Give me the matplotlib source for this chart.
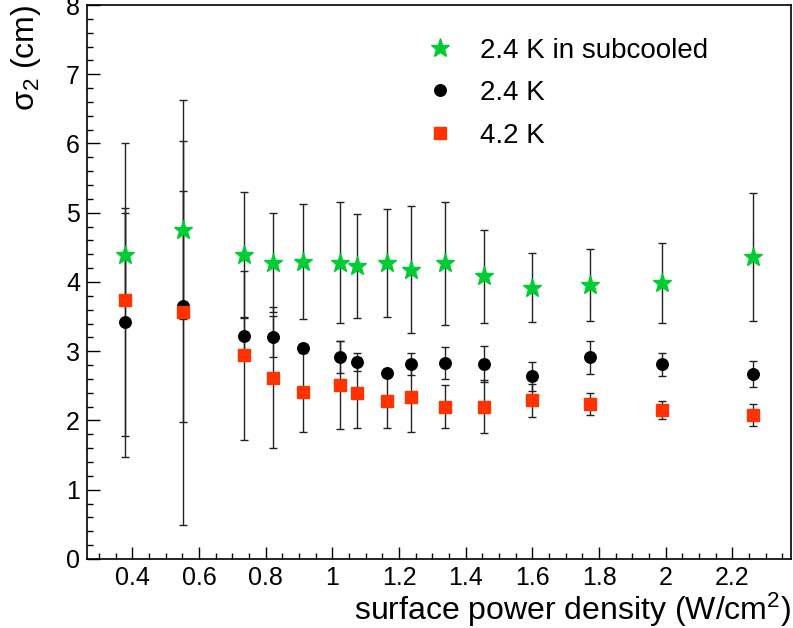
import numpy as np
import matplotlib.pyplot as plt
from matplotlib.lines import Line2D
from matplotlib.ticker import MultipleLocator

plt.rcParams['font.family'] = ['Liberation Sans', 'DejaVu Sans']
plt.rcParams['mathtext.fontset'] = 'custom'
plt.rcParams['mathtext.rm'] = 'Liberation Sans'
plt.rcParams['mathtext.it'] = 'Liberation Sans:italic'

# surface power density (W/cm^2)
power = [0.378, 0.553, 0.735, 0.821, 0.911, 1.023, 1.073, 1.164, 1.236,
         1.337, 1.456, 1.599, 1.772, 1.988, 2.261]

# 2.4 K in subcooled
sig_sub = [4.39, 4.75, 4.39, 4.28, 4.29, 4.28, 4.23, 4.27, 4.18, 4.27, 4.08, 3.92, 3.95, 3.99, 4.36]
err_sub = [0.60, 1.29, 0.91, 0.71, 0.83, 0.87, 0.745, 0.78, 0.915, 0.885, 0.67, 0.505, 0.52, 0.58, 0.925]

# 2.4 K
sig_24 = [3.42, 3.65, 3.22, 3.21, 3.05, 2.92, 2.85, 2.69, 2.82, 2.83, 2.82, 2.64, 2.91, 2.81, 2.67]
err_24 = [1.65, 1.67, 0.27, 0.30, 0.05, 0.23, 0.13, 0.05, 0.16, 0.225, 0.26, 0.21, 0.235, 0.165, 0.185]

# 4.2 K
sig_42 = [3.74, 3.56, 2.94, 2.62, 2.41, 2.51, 2.40, 2.28, 2.34, 2.20, 2.20, 2.29, 2.24, 2.15, 2.08]
err_42 = [2.27, 3.07, 1.22, 1.02, 0.57, 0.64, 0.51, 0.39, 0.50, 0.31, 0.38, 0.24, 0.16, 0.135, 0.155]

green = '#00cc33'
red = '#ff3300'

fig = plt.figure(figsize=(7.93, 6.28), dpi=100)
ax = fig.add_axes([0.1097, 0.110, 0.8878, 0.882])

eb = dict(ecolor='#222222', elinewidth=1.0, capsize=2.6, capthick=1.0, linestyle='none')
ax.errorbar(power, sig_sub, yerr=err_sub, marker='*', ms=14, color=green, mec=green, **eb)
ax.errorbar(power, sig_24, yerr=err_24, marker='o', ms=8.3, color='black', **eb)
ax.errorbar(power, sig_42, yerr=err_42, marker='s', ms=8.5, color=red, mec=red, **eb)

ax.set_xlim(0.264, 2.376)
ax.set_ylim(0, 8)
ax.xaxis.set_major_locator(MultipleLocator(0.2))
ax.xaxis.set_minor_locator(MultipleLocator(0.05))
ax.yaxis.set_major_locator(MultipleLocator(1))
ax.yaxis.set_minor_locator(MultipleLocator(0.2))
ax.xaxis.set_major_formatter(plt.FuncFormatter(lambda v, p: ('%.1f' % v).rstrip('0').rstrip('.')))
ax.tick_params(which='both', direction='in', top=False, right=False, labelsize=18, width=1)
ax.tick_params(which='major', length=9)
ax.tick_params(axis='y', which='major', pad=5)
ax.tick_params(axis='x', which='major', pad=5)
ax.tick_params(which='minor', length=4.5)
for s in ax.spines.values():
    s.set_linewidth(1.2)

ax.set_xlabel('surface power density (W/cm$^2$)', fontsize=23, loc='right')
ax.xaxis.set_label_coords(1.0, -0.057)
ax.set_ylabel('σ$_2$ (cm)', fontsize=23, loc='top')
ax.yaxis.set_label_coords(-0.062, 1.0)

handles = [
    Line2D([], [], marker='*', ms=14, color=green, ls='none'),
    Line2D([], [], marker='o', ms=8.3, color='black', ls='none'),
    Line2D([], [], marker='s', ms=8.5, color=red, ls='none'),
]
ax.legend(handles, ['2.4 K in subcooled', '2.4 K', '4.2 K'], loc='upper left',
          bbox_to_anchor=(0.426, 0.986), frameon=False, fontsize=20,
          labelspacing=0.59, handletextpad=0.44)

plt.savefig('out.png', dpi=100)
